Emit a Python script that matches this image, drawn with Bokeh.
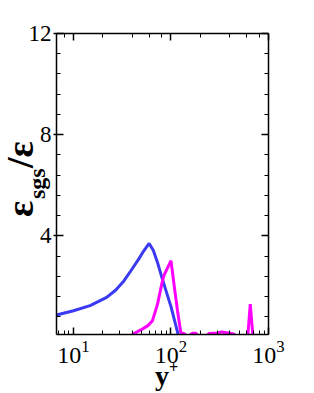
from bokeh.plotting import figure
from bokeh.models import Range1d, FixedTicker, LogAxis, LinearAxis, LogTicker, GridBox, Div
from bokeh.embed import file_html
from bokeh.resources import INLINE

# data
blue_x = [6.7, 10, 14.8, 21.9, 27, 32.9, 38.8, 47, 52, 59.7, 66, 72.7, 81.5, 100, 117, 120]
blue_y = [0.87, 1.04, 1.24, 1.57, 1.85, 2.22, 2.62, 3.1, 3.38, 3.70, 3.42, 2.95, 2.3, 1.2, 0.18, 0.0]

mag_x = [40, 49, 58, 64.5, 72.8, 81.5, 85, 100, 108.5, 116.6, 126, 137, 150, 165, 180, 192,
         230, 245, 300, 332, 400, 440, 470, 600, 615, 650, 690, 700]
mag_y = [0.1, 0.28, 0.45, 0.64, 1.3, 2.2, 2.45, 3.02, 1.95, 1.05, 0.18, 0.12, 0.0, 0.15, 0.15, 0.0,
         0.0, 0.14, 0.16, 0.2, 0.15, 0.12, 0.0, 0.0, 0.1, 1.3, 0.1, 0.0]

y_major = [4, 8, 12]
y_minor = [0.8, 1.6, 2.4, 3.2, 4.8, 5.6, 6.4, 7.2, 8.8, 9.6, 10.4, 11.2]

FONT = "Liberation Serif"
W, H = 314, 393

p = figure(width=W, height=H, x_axis_type="log",
           x_range=Range1d(6.7, 1000), y_range=Range1d(0.1, 12),
           output_backend="svg", toolbar_location=None,
           min_border_left=56, min_border_right=46, min_border_top=33, min_border_bottom=59)
p.grid.visible = False
p.outline_line_color = None
p.background_fill_color = "white"
p.border_fill_color = "white"

p.line(blue_x, blue_y, line_color="#3a3af2", line_width=3)
p.line(mag_x, mag_y, line_color="#ff00ff", line_width=3)

p.yaxis.ticker = FixedTicker(ticks=y_major, minor_ticks=y_minor)

def style(ax, labels=True):
    ax.axis_line_width = 1.5
    ax.axis_line_color = "black"
    ax.major_tick_in = 7
    ax.major_tick_out = 0
    ax.minor_tick_in = 4
    ax.minor_tick_out = 0
    ax.major_tick_line_width = 1.5
    ax.minor_tick_line_width = 1
    ax.major_tick_line_color = "black"
    ax.minor_tick_line_color = "black"
    ax.major_label_text_font = FONT
    ax.major_label_text_color = "black"
    if not labels:
        ax.major_label_text_font_size = "2px"
        ax.major_label_text_alpha = 0
        ax.major_label_standoff = 0

for ax in p.xaxis:
    style(ax)
    ax.major_label_text_font_size = "24px"
    ax.major_label_standoff = 6
for ax in p.yaxis:
    style(ax)
    ax.major_tick_out = 3
    ax.major_label_text_font_size = "23px"
    ax.major_label_standoff = 2

top = LogAxis(ticker=LogTicker())
style(top, labels=False)
p.add_layout(top, "above")
right = LinearAxis(ticker=FixedTicker(ticks=y_major, minor_ticks=y_minor))
style(right, labels=False)
p.add_layout(right, "right")

# axis titles as real text in a transparent overlay (page pixel positions)
def span(text, left, top, size, rotate=False):
    tr = "transform-origin:0 0;transform:rotate(-90deg);" if rotate else ""
    return (f'<span style="position:absolute;left:{left}px;top:{top}px;font-size:{size}px;'
            f'line-height:1;white-space:nowrap;{tr}">{text}</span>')

sup_plus = ('<span style="position:relative;font-size:16px;left:0px;top:-12px;">+</span>')

html = (f'<div style="position:relative;width:{W}px;height:{H}px;font-family:\'{FONT}\';'
        f'font-weight:bold;color:black;">'
        + span("ε", -4, 212, 38, True)
        + span("sgs", 20, 194, 24, True)
        + span("/ε", -4, 163, 38, True)
        + span("y" + sup_plus, 150, 357, 28)
        + '</div>')
ov = Div(text=html, width=W, height=H, styles={"pointer-events": "none"})

grid = GridBox(children=[(p, 0, 0), (ov, 0, 0)])

open("out.html", "w").write(file_html(grid, INLINE))
